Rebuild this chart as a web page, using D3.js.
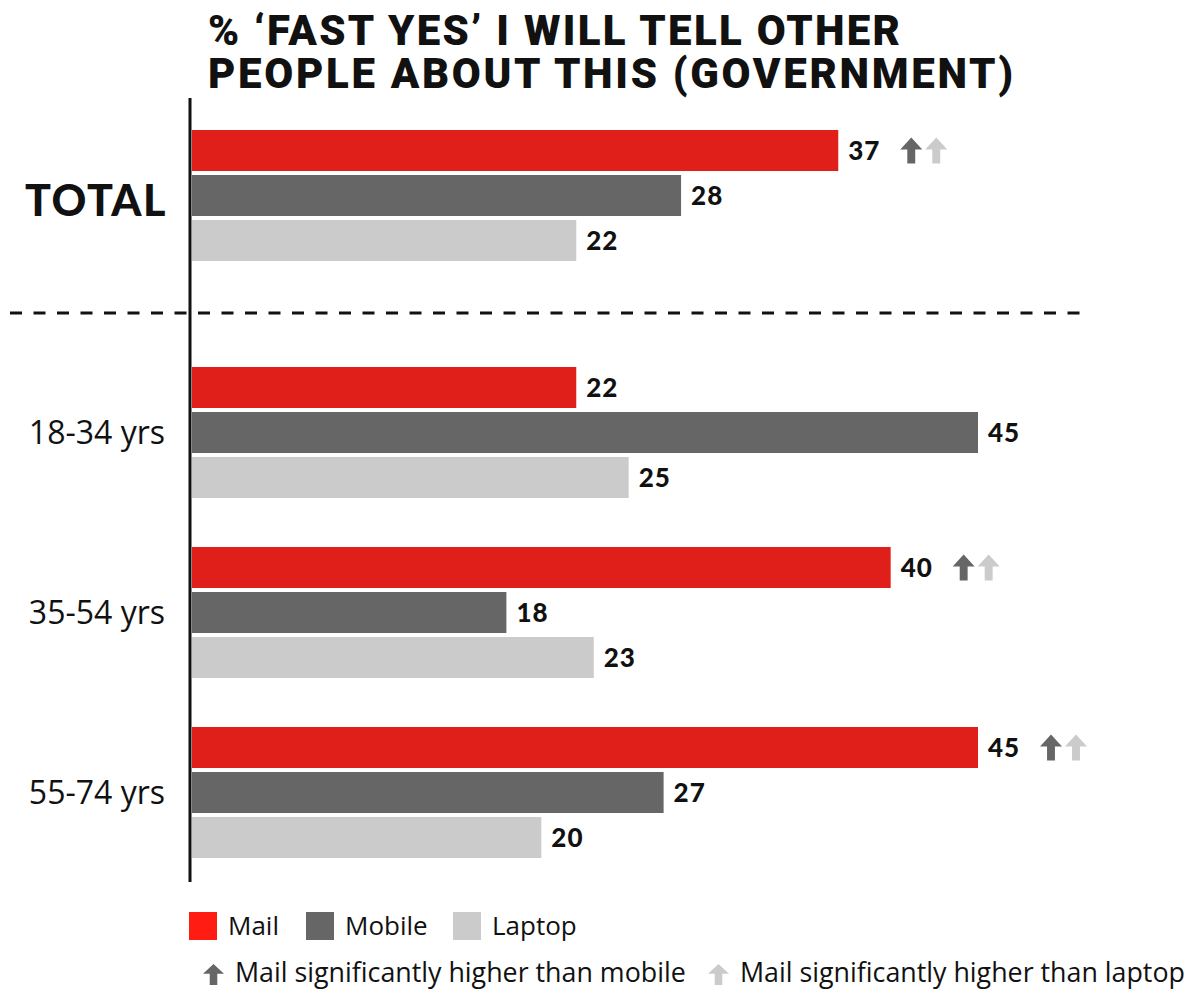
<!DOCTYPE html>
<html>
<head>
<meta charset="utf-8">
<script src="https://cdn.jsdelivr.net/npm/d3@7"></script>
<style>
  body { margin: 0; background: #fff; }
  svg { display: block; }
</style>
</head>
<body>
<script>
var categories = ["TOTAL", "18-34 yrs", "35-54 yrs", "55-74 yrs"];
var series = ["Mail", "Mobile", "Laptop"];
var mail = [37, 22, 40, 45];
var mobile = [28, 45, 18, 27];
var laptop = [22, 25, 23, 20];
// significance markers on the Mail bar
var higherThanMobile = [true, false, true, true];
var higherThanLaptop = [true, false, true, true];
var titleLines = ["% \u2018FAST YES\u2019 I WILL TELL OTHER", "PEOPLE ABOUT THIS (GOVERNMENT)"];
var sigLabels = ["Mail significantly higher than mobile", "Mail significantly higher than laptop"];

var width = 1194, height = 990;
var colors = { Mail: "#e11f1a", Mobile: "#666666", Laptop: "#cbcbcb" };
var legendColors = { Mail: "#ff1c12", Mobile: "#666666", Laptop: "#cbcbcb" };
var arrowColors = ["#666666", "#cbcbcb"];

var svg = d3.select("body").append("svg")
  .attr("width", width)
  .attr("height", height);

var x0 = 192;
var xScale = d3.scaleLinear()
  .domain([0, 45])
  .range([x0, 978]);

// groups are 180px apart; the total block sits higher above the dashed divider
var yGroup = d3.scaleBand()
  .domain(categories)
  .range([187, 907])
  .paddingInner(0)
  .paddingOuter(0);
var totalShift = -57;
function groupTop(c, i) { return yGroup(c) + (i === 0 ? totalShift : 0); }

var yInner = d3.scaleBand()
  .domain(series)
  .range([0, 131])
  .paddingInner(0.089);

var rows = categories.map(function (c, i) {
  return { cat: c, i: i, values: [
    { s: "Mail", v: mail[i] },
    { s: "Mobile", v: mobile[i] },
    { s: "Laptop", v: laptop[i] }
  ] };
});

// title
var titleWidths = [692, 805];
svg.append("g").selectAll("text")
  .data(titleLines)
  .enter().append("text")
  .attr("x", 208)
  .attr("y", function (d, i) { return 45 + i * 43; })
  .attr("textLength", function (d, i) { return titleWidths[i]; })
  .attr("lengthAdjust", "spacing")
  .style("font-family", "Roboto, 'Liberation Sans', sans-serif")
  .style("font-weight", 900)
  .style("font-size", "42px")
  .style("fill", "#111")
  .text(function (d) { return d; });

// dashed divider
svg.append("line")
  .attr("x1", 10).attr("x2", 1082)
  .attr("y1", 313).attr("y2", 313)
  .style("stroke", "#111")
  .style("stroke-width", 3)
  .style("stroke-dasharray", "12,11.5");

var groups = svg.selectAll(".group")
  .data(rows)
  .enter().append("g")
  .attr("class", "group")
  .attr("transform", function (d) { return "translate(0," + groupTop(d.cat, d.i) + ")"; });

groups.selectAll("rect")
  .data(function (d) { return d.values; })
  .enter().append("rect")
  .attr("x", x0)
  .attr("y", function (d) { return yInner(d.s); })
  .attr("width", function (d) { return xScale(d.v) - x0; })
  .attr("height", yInner.bandwidth())
  .style("fill", function (d) { return colors[d.s]; });

groups.selectAll(".val")
  .data(function (d) { return d.values; })
  .enter().append("text")
  .attr("class", "val")
  .attr("x", function (d) { return xScale(d.v) + 10; })
  .attr("y", function (d) { return yInner(d.s) + yInner.bandwidth() / 2; })
  .attr("dy", "0.38em")
  .style("font-family", "Lato, sans-serif")
  .style("font-weight", 900)
  .style("font-size", "26px")
  .style("letter-spacing", "1px")
  .style("fill", "#111")
  .text(function (d) { return d.v; });

// up arrow: triangular head over a square stem
function arrowPath(x, y, w, h) {
  var hh = h * 0.46, s = w * 0.18;
  return "M" + (x + w / 2) + "," + y +
    "L" + (x + w) + "," + (y + hh) +
    "L" + (x + w / 2 + s) + "," + (y + hh) +
    "L" + (x + w / 2 + s) + "," + (y + h) +
    "L" + (x + w / 2 - s) + "," + (y + h) +
    "L" + (x + w / 2 - s) + "," + (y + hh) +
    "L" + x + "," + (y + hh) + "Z";
}

groups.each(function (d) {
  var g = d3.select(this);
  var end = xScale(mail[d.i]);
  var ym = yInner("Mail") + yInner.bandwidth() / 2 - 13;
  if (higherThanMobile[d.i]) {
    g.append("path").attr("d", arrowPath(end + 62, ym, 22, 26)).style("fill", arrowColors[0]);
  }
  if (higherThanLaptop[d.i]) {
    g.append("path").attr("d", arrowPath(end + 87, ym, 22, 26)).style("fill", arrowColors[1]);
  }
});

// category labels
groups.append("text")
  .attr("x", function (d) { return d.i === 0 ? 167 : 165; })
  .attr("y", function (d) { return d.i === 0 ? 86 : yInner.range()[1] / 2; })
  .attr("dy", function (d) { return d.i === 0 ? 0 : "0.35em"; })
  .attr("text-anchor", "end")
  .style("font-family", function (d) { return d.i === 0 ? "Lato, sans-serif" : "'Open Sans', sans-serif"; })
  .style("font-weight", function (d) { return d.i === 0 ? 900 : 400; })
  .style("font-size", function (d) { return d.i === 0 ? "43px" : "32px"; })
  .style("letter-spacing", function (d) { return d.i === 0 ? "1.5px" : "0px"; })
  .style("fill", "#111")
  .text(function (d) { return d.cat; });

// vertical axis line
svg.append("line")
  .attr("x1", 190).attr("x2", 190)
  .attr("y1", 98).attr("y2", 882)
  .style("stroke", "#111")
  .style("stroke-width", 3);

// legend
var legend = svg.append("g");
var legendX = [189, 306, 453];
series.forEach(function (s, i) {
  legend.append("rect")
    .attr("x", legendX[i]).attr("y", 912)
    .attr("width", 28).attr("height", 28)
    .style("fill", legendColors[s]);
  legend.append("text")
    .attr("x", legendX[i] + 39).attr("y", 926)
    .attr("dy", "0.35em")
    .style("font-family", "'Open Sans', sans-serif")
    .style("font-size", "26px")
    .style("fill", "#111")
    .text(s);
});

var sigX = [203, 708];
sigLabels.forEach(function (t, i) {
  legend.append("path")
    .attr("d", arrowPath(sigX[i], 964, 21, 21))
    .style("fill", arrowColors[i]);
  legend.append("text")
    .attr("x", sigX[i] + 32).attr("y", 973)
    .attr("dy", "0.35em")
    .style("font-family", "'Open Sans', sans-serif")
    .style("font-size", "26.8px")
    .style("fill", "#111")
    .text(t);
});
</script>
</body>
</html>
